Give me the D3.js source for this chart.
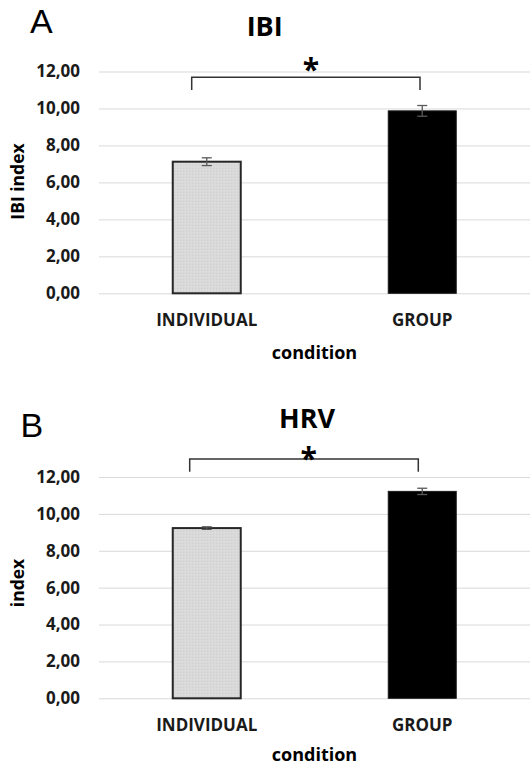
<!DOCTYPE html>
<html><head><meta charset="utf-8">
<script src="https://cdn.jsdelivr.net/npm/d3@7"></script>
<style>body{margin:0;background:#fff}</style>
</head><body><svg id="c" width="532" height="766"></svg>
<script>
const categories = ["INDIVIDUAL", "GROUP"];
const ibiValues = [7.12, 9.87];
const ibiErrors = [0.21, 0.29];
const hrvValues = [9.23, 11.22];
const hrvErrors = [0.07, 0.17];
const yTicks = [0, 2, 4, 6, 8, 10, 12];
const panelLetters = ["A", "B"];
const panelTitles = ["IBI", "HRV"];
const yAxisLabels = ["IBI index", "index"];
const xAxisLabel = "condition";
const sigMark = "*";

const svg = d3.select("#c");
const fontMain = "'Open Sans', sans-serif";
const locale = d3.formatLocale({decimal: ",", thousands: ".", grouping: [3], currency: ["", "€"]});
const fmt = locale.format(".2f");
const barFill = ["#d9d9d9", "#000000"];
const barStroke = ["#262626", "#1a1a1a"];

// texture for individual bar
const defs = svg.append("defs");
const pat = defs.append("pattern").attr("id", "tex").attr("width", 3).attr("height", 3).attr("patternUnits", "userSpaceOnUse");
pat.append("rect").attr("width", 3).attr("height", 3).attr("fill", "#d9d9d9");
pat.append("rect").attr("x", 0).attr("y", 0).attr("width", 1).attr("height", 1).attr("fill", "#cfcfcf");
pat.append("rect").attr("x", 2).attr("y", 1).attr("width", 1).attr("height", 1).attr("fill", "#e0e0e0");

const panels = [
  {values: ibiValues, errors: ibiErrors, top: 71.5, bottom: 293.3,
   letter: [30, 33], title: [264.7, 35.7], bracket: {y: 77.3, x1: 191.7, x2: 420, drop: 90},
   star: [311, 62.5], ylab: [24, 181.5], tickBase: 325.7, xlabBase: 359.3},
  {values: hrvValues, errors: hrvErrors, top: 477, bottom: 698.3,
   letter: [20.5, 437], title: [307, 428.3], bracket: {y: 459, x1: 189.7, x2: 418.3, drop: 471.7},
   star: [308.7, 451.7], ylab: [24, 583], tickBase: 731, xlabBase: 760.5}
];

const left = 99, right = 530;
const x = d3.scaleBand().domain(categories).range([left, right]).padding(0);
const barW = x.bandwidth() * 0.3155;

panels.forEach((p, i) => {
  const g = svg.append("g");
  const y = d3.scaleLinear().domain([0, 12]).range([p.bottom, p.top]);

  // grid + tick labels
  const ax = d3.axisLeft(y).tickValues(yTicks).tickFormat(fmt).tickSize(-(right - left)).tickPadding(19);
  const axg = g.append("g").attr("transform", `translate(${left},0)`).call(ax);
  axg.select(".domain").remove();
  axg.selectAll(".tick line").attr("stroke", "#d9d9d9").attr("stroke-width", 1);
  axg.selectAll(".tick text").attr("font-family", fontMain).attr("font-weight", "bold")
    .attr("font-size", 17).attr("fill", "#1a1a1a");

  // bars
  const vals = p.values;
  g.selectAll(".bar").data(categories).enter().append("rect")
    .attr("x", d => x(d) + x.bandwidth() / 2 - barW / 2)
    .attr("y", (d, j) => y(vals[j]))
    .attr("width", barW)
    .attr("height", (d, j) => y(0) - y(vals[j]))
    .attr("fill", (d, j) => j === 0 ? "url(#tex)" : barFill[j])
    .attr("stroke", (d, j) => barStroke[j])
    .attr("stroke-width", (d, j) => j === 0 ? 2 : 1);

  // error bars
  categories.forEach((c, j) => {
    const cx = x(c) + x.bandwidth() / 2;
    const hi = y(vals[j] + p.errors[j]), lo = y(vals[j] - p.errors[j]);
    const eg = g.append("g").attr("stroke", "#595959").attr("stroke-width", 1.3);
    eg.append("line").attr("x1", cx).attr("x2", cx).attr("y1", hi).attr("y2", lo);
    eg.append("line").attr("x1", cx - 5).attr("x2", cx + 5).attr("y1", hi).attr("y2", hi);
    eg.append("line").attr("x1", cx - 5).attr("x2", cx + 5).attr("y1", lo).attr("y2", lo);
  });

  // x tick labels
  g.selectAll(".xt").data(categories).enter().append("text")
    .attr("x", d => x(d) + x.bandwidth() / 2).attr("y", p.tickBase)
    .attr("text-anchor", "middle").attr("font-family", fontMain).attr("font-weight", "bold")
    .attr("font-size", 17).attr("fill", "#1a1a1a").text(d => d);

  // x axis label
  g.append("text").attr("x", (left + right) / 2).attr("y", p.xlabBase)
    .attr("text-anchor", "middle").attr("font-family", fontMain).attr("font-weight", "bold")
    .attr("font-size", 18).attr("fill", "#000").text(xAxisLabel);

  // y axis label
  g.append("text").attr("transform", `translate(${p.ylab[0]},${p.ylab[1]}) rotate(-90)`)
    .attr("text-anchor", "middle").attr("font-family", fontMain).attr("font-weight", "bold")
    .attr("font-size", 17.5).attr("fill", "#000").text(yAxisLabels[i]);

  // title
  g.append("text").attr("x", p.title[0]).attr("y", p.title[1])
    .attr("text-anchor", "middle").attr("font-family", fontMain).attr("font-weight", "bold")
    .attr("font-size", 27).attr("fill", "#000").text(panelTitles[i]);

  // panel letter
  g.append("text").attr("x", p.letter[0]).attr("y", p.letter[1])
    .attr("font-family", "'Liberation Sans', Arial, sans-serif")
    .attr("font-size", 34).attr("fill", "#000").text(panelLetters[i]);

  // significance bracket
  const b = p.bracket;
  g.append("path")
    .attr("d", `M${b.x1},${b.drop}V${b.y}H${b.x2}V${b.drop}`)
    .attr("fill", "none").attr("stroke", "#333").attr("stroke-width", 1.5);
  g.append("text").attr("x", p.star[0]).attr("y", p.star[1] + 17)
    .attr("text-anchor", "middle").attr("font-family", fontMain).attr("font-weight", "bold")
    .attr("font-size", 30).attr("fill", "#000").text(sigMark);
});
</script></body></html>
